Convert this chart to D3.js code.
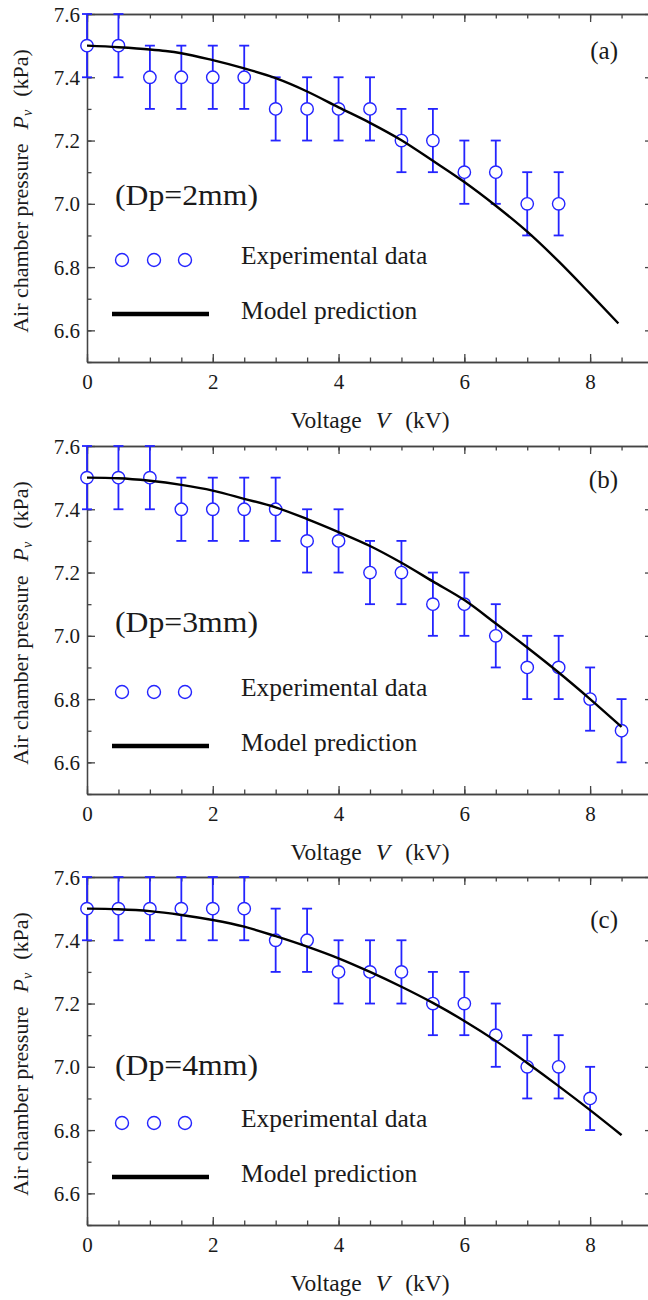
<!DOCTYPE html>
<html>
<head>
<meta charset="utf-8">
<script src="https://cdn.jsdelivr.net/npm/d3@7"></script>
<style>
  body { margin: 0; background: #fff; }
  svg { display: block; overflow: hidden; }
</style>
</head>
<body>
<svg width="648" height="1300"></svg>
<script>
// Tick labels
const xTicks = [0, 2, 4, 6, 8];
const yTicks = [6.6, 6.8, 7.0, 7.2, 7.4, 7.6];
const panelLabels = ["(a)", "(b)", "(c)"];
const diameterLabels = ["(Dp=2mm)", "(Dp=3mm)", "(Dp=4mm)"];
const legendLabels = ["Experimental data", "Model prediction"];

// Experimental data, error bars are +/- 0.1 kPa
const errorHalf = 0.1;
const voltageA = [0, 0.5, 1, 1.5, 2, 2.5, 3, 3.5, 4, 4.5, 5, 5.5, 6, 6.5, 7, 7.5];
const pressureA = [7.5, 7.5, 7.4, 7.4, 7.4, 7.4, 7.3, 7.3, 7.3, 7.3, 7.2, 7.2, 7.1, 7.1, 7.0, 7.0];
const voltageB = [0, 0.5, 1, 1.5, 2, 2.5, 3, 3.5, 4, 4.5, 5, 5.5, 6, 6.5, 7, 7.5, 8, 8.5];
const pressureB = [7.5, 7.5, 7.5, 7.4, 7.4, 7.4, 7.4, 7.3, 7.3, 7.2, 7.2, 7.1, 7.1, 7.0, 6.9, 6.9, 6.8, 6.7];
const voltageC = [0, 0.5, 1, 1.5, 2, 2.5, 3, 3.5, 4, 4.5, 5, 5.5, 6, 6.5, 7, 7.5, 8];
const pressureC = [7.5, 7.5, 7.5, 7.5, 7.5, 7.5, 7.4, 7.4, 7.3, 7.3, 7.3, 7.2, 7.2, 7.1, 7.0, 7.0, 6.9];

// Model prediction curves
const modelVoltageA = [0, 0.5, 1, 1.25, 1.5, 2, 2.5, 3, 3.5, 4, 4.5, 5, 5.5, 6, 6.5, 7, 7.5, 8, 8.45];
const modelPressureA = [7.5, 7.495, 7.488, 7.483, 7.476, 7.454, 7.428, 7.397, 7.355, 7.305, 7.256, 7.201, 7.136, 7.069, 6.994, 6.912, 6.818, 6.716, 6.622];
const modelVoltageB = [0, 0.5, 1, 1.5, 2, 2.5, 3, 3.5, 4, 4.5, 5, 5.5, 6, 6.5, 7, 7.5, 8, 8.5];
const modelPressureB = [7.5, 7.498, 7.49, 7.477, 7.459, 7.433, 7.406, 7.369, 7.328, 7.284, 7.231, 7.172, 7.113, 7.039, 6.963, 6.884, 6.80, 6.712];
const modelVoltageC = [0, 0.5, 1, 1.5, 2, 2.5, 3, 3.5, 4, 4.5, 5, 5.5, 6, 6.5, 7, 7.5, 8, 8.5];
const modelPressureC = [7.5, 7.498, 7.492, 7.48, 7.464, 7.443, 7.413, 7.38, 7.343, 7.30, 7.253, 7.202, 7.145, 7.082, 7.012, 6.939, 6.863, 6.784];

const panels = [
  { v: voltageA, p: pressureA, mv: modelVoltageA, mp: modelPressureA },
  { v: voltageB, p: pressureB, mv: modelVoltageB, mp: modelPressureB },
  { v: voltageC, p: pressureC, mv: modelVoltageC, mp: modelPressureC },
];

// layout
const serif = "Liberation Serif, Times New Roman, serif";
const svg = d3.select("svg").attr("font-family", serif);
const left = 87, right = 653, plotH = 348;
const panelTops = [14, 446, 877];
const dpOffsets = [191, 186, 198];
const tagOffsets = [45, 42, 51];
const blue = "#2424ff";
const axisColor = "#444";
const textColor = "#1a1a1a";

const x = d3.scaleLinear().domain([0, 9]).range([left, right]);
const xMinor = d3.range(0, 9.01, 0.5);
const yMinor = d3.range(6.5, 7.61, 0.1).map(d => +d.toFixed(1));

function styleAxis(g) {
  g.attr("font-family", serif).attr("font-size", 21);
  g.selectAll(".domain, .tick line").attr("stroke", axisColor).attr("stroke-width", 1.3);
  g.selectAll("text").attr("fill", textColor).attr("font-family", serif);
}

function label(g, xPos, yPos, size) {
  return g.append("text").attr("x", xPos).attr("y", yPos)
    .attr("font-family", serif).attr("font-size", size).attr("fill", textColor);
}

panels.forEach((panel, i) => {
  const top = panelTops[i];
  const bottom = top + plotH;
  const y = d3.scaleLinear().domain([6.5, 7.6]).range([bottom, top]);
  const g = svg.append("g");

  // minor ticks on all four sides
  g.append("g").attr("transform", `translate(0,${bottom})`)
    .call(d3.axisBottom(x).tickValues(xMinor).tickSize(-4.5).tickFormat("").tickSizeOuter(0)).call(styleAxis);
  g.append("g").attr("transform", `translate(0,${top})`)
    .call(d3.axisTop(x).tickValues(xMinor).tickSize(-4.5).tickFormat("").tickSizeOuter(0)).call(styleAxis);
  g.append("g").attr("transform", `translate(${left},0)`)
    .call(d3.axisLeft(y).tickValues(yMinor).tickSize(-4.5).tickFormat("").tickSizeOuter(0)).call(styleAxis);
  g.append("g").attr("transform", `translate(${right},0)`)
    .call(d3.axisRight(y).tickValues(yMinor).tickSize(-4.5).tickFormat("").tickSizeOuter(0)).call(styleAxis);

  // major ticks + labels
  const xb = g.append("g").attr("transform", `translate(0,${bottom})`)
    .call(d3.axisBottom(x).tickValues(xTicks).tickSize(-8).tickSizeOuter(0).tickFormat(d3.format("d")))
    .call(styleAxis);
  xb.selectAll("text").attr("y", 27).attr("dy", null);
  g.append("g").attr("transform", `translate(0,${top})`)
    .call(d3.axisTop(x).tickValues(xTicks).tickSize(-8).tickFormat("").tickSizeOuter(0)).call(styleAxis);
  const yl = g.append("g").attr("transform", `translate(${left},0)`)
    .call(d3.axisLeft(y).tickValues(yTicks).tickSize(-8).tickSizeOuter(0).tickFormat(d3.format(".1f")))
    .call(styleAxis);
  yl.selectAll("text").attr("x", -7).attr("dy", "0.34em");
  g.append("g").attr("transform", `translate(${right},0)`)
    .call(d3.axisRight(y).tickValues(yTicks).tickSize(-8).tickFormat("").tickSizeOuter(0)).call(styleAxis);

  // error bars
  const pts = panel.v.map((v, j) => ({ v, p: panel.p[j] }));
  const eb = g.append("g").attr("stroke", blue).attr("stroke-width", 1.8);
  eb.selectAll("line.bar").data(pts).join("line").attr("class", "bar")
    .attr("x1", d => x(d.v)).attr("x2", d => x(d.v))
    .attr("y1", d => y(d.p - errorHalf)).attr("y2", d => y(d.p + errorHalf));
  eb.selectAll("line.lo").data(pts).join("line").attr("class", "lo")
    .attr("x1", d => x(d.v) - 5).attr("x2", d => x(d.v) + 5)
    .attr("y1", d => y(d.p - errorHalf)).attr("y2", d => y(d.p - errorHalf));
  eb.selectAll("line.hi").data(pts).join("line").attr("class", "hi")
    .attr("x1", d => x(d.v) - 5).attr("x2", d => x(d.v) + 5)
    .attr("y1", d => y(d.p + errorHalf)).attr("y2", d => y(d.p + errorHalf));

  // markers
  g.append("g").selectAll("circle").data(pts).join("circle")
    .attr("cx", d => x(d.v)).attr("cy", d => y(d.p)).attr("r", 6.2)
    .attr("fill", "#fff").attr("stroke", blue).attr("stroke-width", 1.4);

  // model curve
  const line = d3.line().curve(d3.curveMonotoneX).x(d => x(d[0])).y(d => y(d[1]));
  g.append("path").datum(panel.mv.map((v, j) => [v, panel.mp[j]]))
    .attr("d", line).attr("fill", "none").attr("stroke", "#000").attr("stroke-width", 2.4);

  // legend
  [122, 154, 185].forEach(cx => {
    g.append("circle").attr("cx", cx).attr("cy", top + 246).attr("r", 6.5)
      .attr("fill", "none").attr("stroke", blue).attr("stroke-width", 1.4);
  });
  g.append("line").attr("x1", 112).attr("x2", 209).attr("y1", top + 300).attr("y2", top + 300)
    .attr("stroke", "#000").attr("stroke-width", 4.5);
  label(g, 241, top + 250, 25.5).text(legendLabels[0]);
  label(g, 241, top + 305, 25.5).text(legendLabels[1]);

  // annotations
  label(g, 115, top + dpOffsets[i], 29)
    .attr("textLength", 143).attr("lengthAdjust", "spacingAndGlyphs").text(diameterLabels[i]);
  label(g, 618, top + tagOffsets[i], 25).attr("text-anchor", "end").text(panelLabels[i]);

  // axis titles
  const xt = label(g, 370, top + 414, 23.5).attr("text-anchor", "middle");
  xt.append("tspan").text("Voltage");
  xt.append("tspan").attr("dx", 14).attr("font-style", "italic").text("V");
  xt.append("tspan").attr("dx", 15).text("(kV)");

  const yt = label(g, 0, 0, 22).attr("transform", `translate(28,${top + 177}) rotate(-90)`)
    .attr("text-anchor", "middle");
  yt.append("tspan").text("Air chamber pressure");
  yt.append("tspan").attr("dx", 14).attr("font-style", "italic").text("P");
  yt.append("tspan").attr("dy", 4).attr("font-size", 14).attr("font-style", "italic").text("v");
  yt.append("tspan").attr("dy", -4).attr("dx", 13).text("(kPa)");
});
</script>
</body>
</html>
